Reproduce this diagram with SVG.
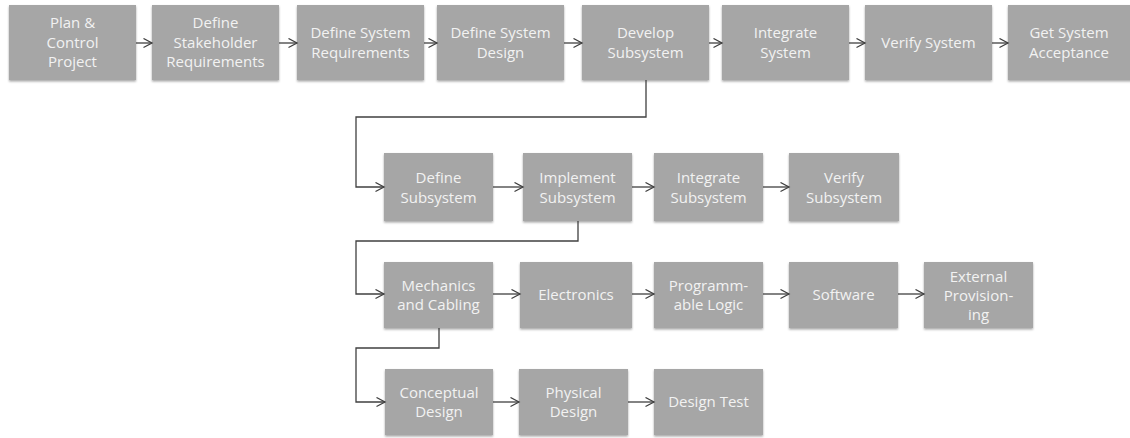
<svg xmlns="http://www.w3.org/2000/svg" width="1130" height="438" viewBox="0 0 1130 438">
  <style>
    .box { fill: #a6a6a6; filter: url(#shadow); }
    .lbl { font-family: "Open Sans", "Liberation Sans", sans-serif; font-size: 15px; fill: #f2f2f2; text-anchor: middle; }
    .edge { fill: none; stroke: #404040; stroke-width: 1.3; marker-end: url(#arrow); }
  </style>
  <defs>
    <filter id="shadow" x="-10%" y="-10%" width="120%" height="130%">
      <feDropShadow dx="0" dy="1.5" stdDeviation="1.2" flood-color="#000" flood-opacity="0.35"/>
    </filter>
    <marker id="arrow" markerUnits="userSpaceOnUse" markerWidth="12" markerHeight="12" refX="9" refY="5" orient="auto">
      <path d="M0.5,0.5 L9,5 L0.5,9.5" fill="none" stroke="#404040" stroke-width="1.3"/>
    </marker>
  </defs>

  <!-- top level process -->
  <g id="plan-control-project">
    <rect class="box" x="9" y="5" width="127" height="75"/>
    <text class="lbl" x="72.5" y="28">Plan &amp;</text>
    <text class="lbl" x="72.5" y="48">Control</text>
    <text class="lbl" x="72.5" y="67">Project</text>
  </g>
  <g id="define-stakeholder-requirements">
    <rect class="box" x="152" y="5" width="127" height="75"/>
    <text class="lbl" x="215.5" y="28">Define</text>
    <text class="lbl" x="215.5" y="48">Stakeholder</text>
    <text class="lbl" x="215.5" y="67">Requirements</text>
  </g>
  <g id="define-system-requirements">
    <rect class="box" x="297" y="5" width="127" height="75"/>
    <text class="lbl" x="360.5" y="38">Define System</text>
    <text class="lbl" x="360.5" y="58">Requirements</text>
  </g>
  <g id="define-system-design">
    <rect class="box" x="437" y="5" width="127" height="75"/>
    <text class="lbl" x="500.5" y="38">Define System</text>
    <text class="lbl" x="500.5" y="58">Design</text>
  </g>
  <g id="develop-subsystem">
    <rect class="box" x="582" y="5" width="127" height="75"/>
    <text class="lbl" x="645.5" y="38">Develop</text>
    <text class="lbl" x="645.5" y="58">Subsystem</text>
  </g>
  <g id="integrate-system">
    <rect class="box" x="722" y="5" width="127" height="75"/>
    <text class="lbl" x="785.5" y="38">Integrate</text>
    <text class="lbl" x="785.5" y="58">System</text>
  </g>
  <g id="verify-system">
    <rect class="box" x="865" y="5" width="127" height="75"/>
    <text class="lbl" x="928.5" y="48">Verify System</text>
  </g>
  <g id="get-system-acceptance">
    <rect class="box" x="1008" y="5" width="127" height="75"/>
    <text class="lbl" x="1069" y="38">Get System</text>
    <text class="lbl" x="1069" y="58">Acceptance</text>
  </g>

  <!-- subsystem process -->
  <g id="define-subsystem">
    <rect class="box" x="384" y="153" width="109" height="68"/>
    <text class="lbl" x="438.5" y="183">Define</text>
    <text class="lbl" x="438.5" y="203">Subsystem</text>
  </g>
  <g id="implement-subsystem">
    <rect class="box" x="523" y="153" width="109" height="68"/>
    <text class="lbl" x="577.5" y="183">Implement</text>
    <text class="lbl" x="577.5" y="203">Subsystem</text>
  </g>
  <g id="integrate-subsystem">
    <rect class="box" x="654" y="153" width="109" height="68"/>
    <text class="lbl" x="708.5" y="183">Integrate</text>
    <text class="lbl" x="708.5" y="203">Subsystem</text>
  </g>
  <g id="verify-subsystem">
    <rect class="box" x="789" y="153" width="110" height="68"/>
    <text class="lbl" x="844" y="183">Verify</text>
    <text class="lbl" x="844" y="203">Subsystem</text>
  </g>

  <!-- implementation disciplines -->
  <g id="mechanics-cabling">
    <rect class="box" x="384" y="262" width="109" height="66"/>
    <text class="lbl" x="438.5" y="291">Mechanics</text>
    <text class="lbl" x="438.5" y="310">and Cabling</text>
  </g>
  <g id="electronics">
    <rect class="box" x="520" y="262" width="112" height="66"/>
    <text class="lbl" x="576" y="300">Electronics</text>
  </g>
  <g id="programmable-logic">
    <rect class="box" x="654" y="262" width="109" height="66"/>
    <text class="lbl" x="708.5" y="291">Programm-</text>
    <text class="lbl" x="708.5" y="310">able Logic</text>
  </g>
  <g id="software">
    <rect class="box" x="789" y="262" width="109" height="66"/>
    <text class="lbl" x="843.5" y="300">Software</text>
  </g>
  <g id="external-provisioning">
    <rect class="box" x="924" y="262" width="109" height="66"/>
    <text class="lbl" x="978.5" y="282">External</text>
    <text class="lbl" x="978.5" y="301">Provision-</text>
    <text class="lbl" x="978.5" y="320">ing</text>
  </g>

  <!-- design steps -->
  <g id="conceptual-design">
    <rect class="box" x="385" y="369" width="108" height="66"/>
    <text class="lbl" x="439" y="398">Conceptual</text>
    <text class="lbl" x="439" y="417">Design</text>
  </g>
  <g id="physical-design">
    <rect class="box" x="519" y="369" width="109" height="66"/>
    <text class="lbl" x="573.5" y="398">Physical</text>
    <text class="lbl" x="573.5" y="417">Design</text>
  </g>
  <g id="design-test">
    <rect class="box" x="654" y="369" width="109" height="66"/>
    <text class="lbl" x="708.5" y="407">Design Test</text>
  </g>

  <g id="connectors">
    <!-- top row -->
    <path class="edge" d="M136,43 H152"/>
    <path class="edge" d="M279,43 H297"/>
    <path class="edge" d="M424,43 H437"/>
    <path class="edge" d="M564,43 H582"/>
    <path class="edge" d="M709,43 H722"/>
    <path class="edge" d="M849,43 H865"/>
    <path class="edge" d="M992,43 H1008"/>
    <!-- drill-down links -->
    <path class="edge" d="M646,80 V117 H356 V187 H384"/>
    <path class="edge" d="M578,221 V241 H356 V294 H384"/>
    <path class="edge" d="M439,328 V348 H356 V402 H385"/>
    <!-- subsystem row -->
    <path class="edge" d="M493,187 H523"/>
    <path class="edge" d="M632,187 H654"/>
    <path class="edge" d="M763,187 H789"/>
    <!-- disciplines row -->
    <path class="edge" d="M493,294 H520"/>
    <path class="edge" d="M632,294 H654"/>
    <path class="edge" d="M763,294 H789"/>
    <path class="edge" d="M898,294 H924"/>
    <!-- design row -->
    <path class="edge" d="M493,402 H519"/>
    <path class="edge" d="M628,402 H654"/>
  </g>
</svg>
